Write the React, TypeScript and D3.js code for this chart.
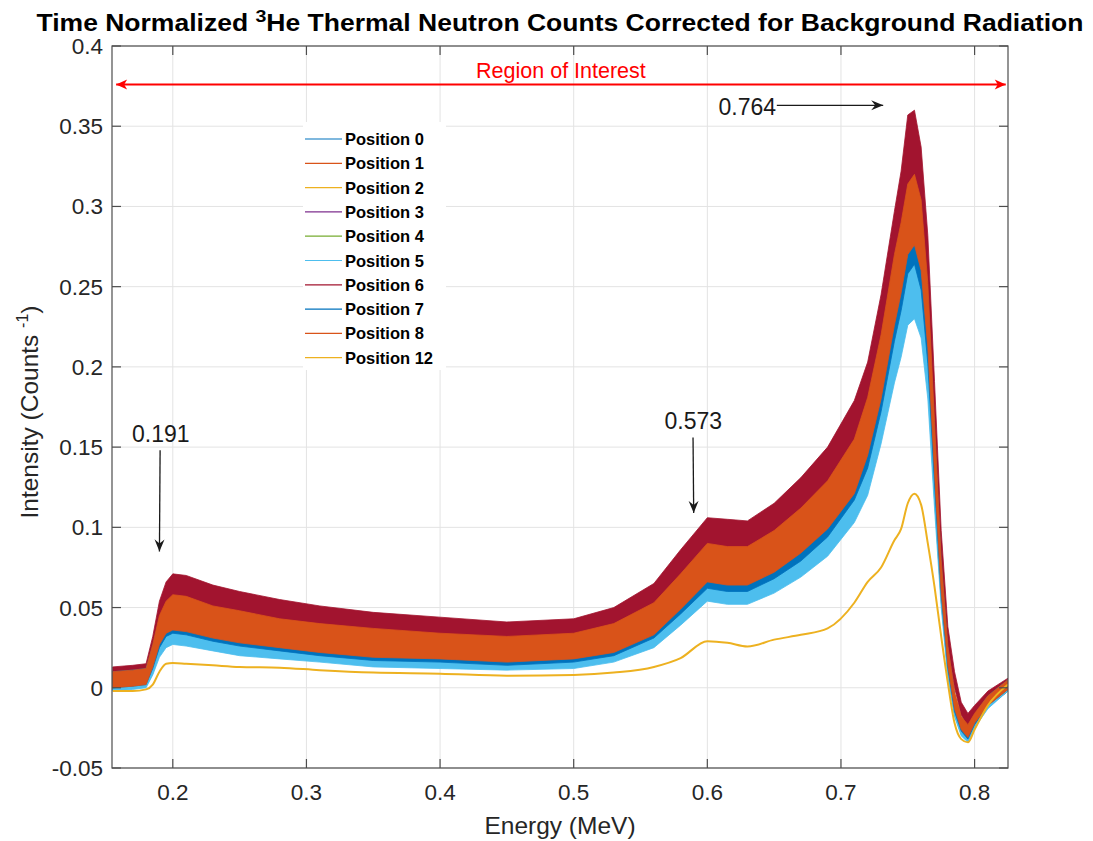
import React from 'react';
import * as d3 from 'd3';

// energy grid (MeV) the curves were read on
const energy = [0.155, 0.17, 0.18, 0.185, 0.19, 0.195, 0.2, 0.21, 0.23, 0.25, 0.28, 0.31, 0.35, 0.4, 0.45, 0.5, 0.53, 0.56, 0.58, 0.6, 0.615, 0.63, 0.65, 0.67, 0.69, 0.71, 0.72, 0.73, 0.74, 0.745, 0.75, 0.755, 0.76, 0.765, 0.77, 0.775, 0.78, 0.785, 0.79, 0.795, 0.8, 0.81, 0.825];

// half-width of the counting noise around each trace
const noise = [0.005, 0.005, 0.005, 0.007, 0.009, 0.010, 0.011, 0.011, 0.010, 0.010, 0.009, 0.009, 0.009, 0.008, 0.008, 0.008, 0.009, 0.010, 0.011, 0.012, 0.012, 0.012, 0.013, 0.014, 0.015, 0.017, 0.018, 0.020, 0.022, 0.022, 0.022, 0.022, 0.022, 0.020, 0.016, 0.010, 0.006, 0.005, 0.004, 0.004, 0.003, 0.003, 0.003];

const pos0 = [0.004, 0.005, 0.006, 0.017, 0.032, 0.040, 0.043, 0.042, 0.037, 0.034, 0.031, 0.028, 0.025, 0.023, 0.021, 0.023, 0.028, 0.039, 0.055, 0.072, 0.070, 0.070, 0.078, 0.090, 0.105, 0.130, 0.150, 0.186, 0.230, 0.248, 0.270, 0.276, 0.262, 0.216, 0.138, 0.066, 0.016, -0.011, -0.024, -0.029, -0.021, -0.009, 0.001];
const pos1 = [0.004, 0.005, 0.006, 0.018, 0.034, 0.042, 0.045, 0.044, 0.039, 0.036, 0.033, 0.030, 0.027, 0.025, 0.023, 0.025, 0.030, 0.041, 0.058, 0.075, 0.073, 0.073, 0.082, 0.095, 0.110, 0.136, 0.157, 0.195, 0.242, 0.262, 0.286, 0.292, 0.276, 0.226, 0.146, 0.068, 0.019, -0.009, -0.023, -0.028, -0.020, -0.008, 0.002];
const pos2 = [0.005, 0.006, 0.007, 0.020, 0.036, 0.045, 0.048, 0.047, 0.042, 0.039, 0.035, 0.032, 0.029, 0.027, 0.025, 0.027, 0.032, 0.044, 0.061, 0.079, 0.077, 0.077, 0.086, 0.099, 0.116, 0.142, 0.166, 0.206, 0.258, 0.282, 0.305, 0.310, 0.290, 0.236, 0.152, 0.071, 0.020, -0.008, -0.022, -0.027, -0.019, -0.008, 0.002];
const pos3 = [0.004, 0.005, 0.006, 0.017, 0.033, 0.041, 0.044, 0.043, 0.038, 0.035, 0.031, 0.028, 0.026, 0.024, 0.022, 0.024, 0.029, 0.040, 0.056, 0.073, 0.071, 0.071, 0.079, 0.092, 0.107, 0.132, 0.152, 0.189, 0.234, 0.252, 0.275, 0.281, 0.266, 0.219, 0.140, 0.067, 0.017, -0.011, -0.024, -0.029, -0.021, -0.009, 0.001];
const pos4 = [0.004, 0.005, 0.006, 0.016, 0.031, 0.039, 0.042, 0.041, 0.036, 0.033, 0.030, 0.027, 0.024, 0.022, 0.021, 0.022, 0.027, 0.038, 0.053, 0.070, 0.068, 0.068, 0.076, 0.088, 0.103, 0.127, 0.146, 0.182, 0.225, 0.242, 0.263, 0.268, 0.255, 0.210, 0.134, 0.064, 0.015, -0.012, -0.025, -0.029, -0.021, -0.009, 0.001];
const pos5 = [0.003, 0.004, 0.005, 0.015, 0.028, 0.035, 0.038, 0.037, 0.033, 0.030, 0.027, 0.025, 0.022, 0.020, 0.019, 0.020, 0.025, 0.035, 0.050, 0.066, 0.064, 0.064, 0.072, 0.083, 0.097, 0.120, 0.138, 0.172, 0.212, 0.228, 0.248, 0.252, 0.240, 0.200, 0.128, 0.060, 0.012, -0.013, -0.026, -0.030, -0.022, -0.010, 0.001];
const pos6 = [0.008, 0.009, 0.010, 0.025, 0.045, 0.056, 0.060, 0.059, 0.054, 0.050, 0.046, 0.042, 0.038, 0.036, 0.033, 0.035, 0.041, 0.055, 0.075, 0.094, 0.093, 0.092, 0.102, 0.117, 0.135, 0.162, 0.185, 0.225, 0.275, 0.300, 0.335, 0.338, 0.315, 0.262, 0.175, 0.088, 0.032, 0.005, -0.013, -0.020, -0.014, -0.005, 0.003];
const pos7 = [0.005, 0.006, 0.007, 0.019, 0.034, 0.042, 0.045, 0.044, 0.039, 0.036, 0.032, 0.029, 0.026, 0.024, 0.022, 0.024, 0.029, 0.041, 0.057, 0.074, 0.072, 0.072, 0.081, 0.093, 0.109, 0.134, 0.155, 0.192, 0.238, 0.257, 0.280, 0.286, 0.270, 0.222, 0.143, 0.068, 0.018, -0.010, -0.023, -0.028, -0.020, -0.008, 0.002];
const pos8 = [0.005, 0.006, 0.007, 0.020, 0.036, 0.044, 0.047, 0.046, 0.041, 0.038, 0.034, 0.031, 0.028, 0.026, 0.024, 0.026, 0.031, 0.043, 0.060, 0.078, 0.076, 0.076, 0.085, 0.098, 0.114, 0.138, 0.163, 0.200, 0.248, 0.268, 0.292, 0.298, 0.282, 0.232, 0.150, 0.070, 0.020, -0.008, -0.022, -0.027, -0.019, -0.008, 0.002];
const pos12 = [-0.002, -0.002, -0.001, 0.002, 0.010, 0.015, 0.0155, 0.015, 0.014, 0.013, 0.0125, 0.011, 0.0095, 0.0088, 0.0075, 0.008, 0.0095, 0.013, 0.0185, 0.029, 0.028, 0.0257, 0.030, 0.033, 0.037, 0.053, 0.066, 0.075, 0.092, 0.099, 0.115, 0.121, 0.114, 0.090, 0.063, 0.032, 0.003, -0.022, -0.032, -0.034, -0.026, -0.011, 0.002];

const series = [
  { name: 'Position 0', color: '#0072BD', values: pos0, noisy: true },
  { name: 'Position 1', color: '#D95319', values: pos1, noisy: true },
  { name: 'Position 2', color: '#EDB120', values: pos2, noisy: true },
  { name: 'Position 3', color: '#7E2F8E', values: pos3, noisy: true },
  { name: 'Position 4', color: '#77AC30', values: pos4, noisy: true },
  { name: 'Position 5', color: '#4DBEEE', values: pos5, noisy: true },
  { name: 'Position 6', color: '#A2142F', values: pos6, noisy: true },
  { name: 'Position 7', color: '#0072BD', values: pos7, noisy: true },
  { name: 'Position 8', color: '#D95319', values: pos8, noisy: true },
  { name: 'Position 12', color: '#EDB120', values: pos12, noisy: false },
];

const xTicks = [0.2, 0.3, 0.4, 0.5, 0.6, 0.7, 0.8];
const yTicks = [-0.05, 0, 0.05, 0.1, 0.15, 0.2, 0.25, 0.3, 0.35, 0.4];

// peak markers: label, arrow start -> arrow end (data units)
const peakNotes = [
  { label: '0.191', tx: 0.191, ty: 0.153, x1: 0.1905, y1: 0.148, x2: 0.1900, y2: 0.085, anchor: 'middle' },
  { label: '0.573', tx: 0.5895, ty: 0.161, x1: 0.5893, y1: 0.156, x2: 0.5898, y2: 0.109, anchor: 'middle' },
  { label: '0.764', tx: 0.6515, ty: 0.357, x1: 0.652, y1: 0.363, x2: 0.7316, y2: 0.363, anchor: 'end' },
];
const regionOfInterest = { from: 0.1576, to: 0.8233, level: 0.376 };

const FONT = '"Liberation Sans", Arial, Helvetica, sans-serif';

export default function App() {
  const width = 1093;
  const height = 841;
  const left = 112, right = 1008, top = 46, bottom = 768;

  const x = d3.scaleLinear().domain([0.1545, 0.825]).range([left, right]);
  const y = d3.scaleLinear().domain([-0.05, 0.4]).range([bottom, top]);

  const band = (vals: number[]) =>
    d3.area<number>()
      .x((_, i) => x(energy[i]))
      .y0((d, i) => y(d - noise[i]))
      .y1((d, i) => y(d + noise[i]))(vals) || '';

  const line = (vals: number[]) =>
    d3.line<number>()
      .x((_, i) => x(energy[i]))
      .y(d => y(d))
      .curve(d3.curveMonotoneX)(vals) || '';

  const axisColor = '#4d4d4d';
  const tickLen = 9;

  return (
    <svg width={width} height={height} style={{ position: 'absolute', left: 0, top: 0, background: '#fff' }} fontFamily={FONT}>
      <defs>
        <clipPath id="plotClip">
          <rect x={left} y={top} width={right - left} height={bottom - top} />
        </clipPath>
        <marker id="redHead" viewBox="-12 -6 14 12" refX={0} refY={0} markerWidth={14} markerHeight={12}
          markerUnits="userSpaceOnUse" orient="auto-start-reverse">
          <path d="M0,0 L-11,-5 L-8,0 L-11,5 Z" fill="#ff0000" />
        </marker>
        <marker id="blackHead" viewBox="-12 -6 14 12" refX={0} refY={0} markerWidth={14} markerHeight={12}
          markerUnits="userSpaceOnUse" orient="auto">
          <path d="M0,0 L-12,-5 L-8,0 L-12,5 Z" fill="#1a1a1a" />
        </marker>
      </defs>

      <rect x={left} y={top} width={right - left} height={bottom - top} fill="#fff" />

      {/* grid */}
      <g stroke="#e3e3e3" strokeWidth={1}>
        {xTicks.map(t => (
          <line key={'gx' + t} x1={x(t)} x2={x(t)} y1={top} y2={bottom} />
        ))}
        {yTicks.map(t => (
          <line key={'gy' + t} x1={left} x2={right} y1={y(t)} y2={y(t)} />
        ))}
      </g>

      {/* traces */}
      <g clipPath="url(#plotClip)">
        {series.map(s => s.noisy ? (
          <path key={s.name} d={band(s.values)} fill={s.color} stroke={s.color} strokeWidth={0.8} strokeLinejoin="round" />
        ) : (
          <path key={s.name} d={line(s.values)} fill="none" stroke={s.color} strokeWidth={2} strokeLinejoin="round" />
        ))}
      </g>

      {/* box + ticks */}
      <rect x={left} y={top} width={right - left} height={bottom - top} fill="none" stroke={axisColor} strokeWidth={1.2} />
      <g stroke={axisColor} strokeWidth={1.2}>
        {xTicks.map(t => (
          <g key={'tx' + t}>
            <line x1={x(t)} x2={x(t)} y1={bottom} y2={bottom - tickLen} />
            <line x1={x(t)} x2={x(t)} y1={top} y2={top + tickLen} />
          </g>
        ))}
        {yTicks.map(t => (
          <g key={'ty' + t}>
            <line x1={left} x2={left + tickLen} y1={y(t)} y2={y(t)} />
            <line x1={right} x2={right - tickLen} y1={y(t)} y2={y(t)} />
          </g>
        ))}
      </g>

      {/* tick labels */}
      <g fill="#262626" fontSize={22.5}>
        {xTicks.map(t => (
          <text key={'lx' + t} x={x(t)} y={bottom + 32} textAnchor="middle">{String(t)}</text>
        ))}
        {yTicks.map(t => (
          <text key={'ly' + t} x={left - 9} y={y(t) + 8} textAnchor="end">{String(t)}</text>
        ))}
      </g>

      {/* axis titles */}
      <text x={(left + right) / 2} y={834} textAnchor="middle" fontSize={24.5} fill="#262626">Energy (MeV)</text>
      <text transform={`translate(38, ${(top + bottom) / 2 + 5}) rotate(-90)`} textAnchor="middle" fontSize={24.5} fill="#262626">
        Intensity (Counts <tspan fontSize={16} dy={-10}>-1</tspan><tspan dy={10}>)</tspan>
      </text>

      {/* title */}
      <text x={560} y={31} textAnchor="middle" fontSize={23} fontWeight="bold" fill="#000"
        textLength={1047} lengthAdjust="spacingAndGlyphs">
        Time Normalized <tspan fontSize={17} dy={-9}>3</tspan><tspan dy={9}>He Thermal Neutron Counts Corrected for Background Radiation</tspan>
      </text>

      {/* region of interest */}
      <line x1={x(regionOfInterest.from)} x2={x(regionOfInterest.to)} y1={y(regionOfInterest.level)} y2={y(regionOfInterest.level)}
        stroke="#ff0000" strokeWidth={2} markerStart="url(#redHead)" markerEnd="url(#redHead)" />
      <text x={(x(regionOfInterest.from) + x(regionOfInterest.to)) / 2} y={y(regionOfInterest.level) - 7} textAnchor="middle"
        fontSize={21.5} fill="#ff0000">Region of Interest</text>

      {/* peak labels */}
      {peakNotes.map(n => (
        <g key={n.label}>
          <line x1={x(n.x1)} y1={y(n.y1)} x2={x(n.x2)} y2={y(n.y2)} stroke="#1a1a1a" strokeWidth={1.3} markerEnd="url(#blackHead)" />
          <text x={x(n.tx)} y={y(n.ty)} textAnchor={n.anchor} fontSize={23} fill="#1a1a1a">{n.label}</text>
        </g>
      ))}

      {/* legend */}
      <g>
        <rect x={303} y={122} width={143} height={248} fill="#fff" />
        {series.map((s, i) => {
          const cy = 139 + i * 24.3;
          return (
            <g key={'leg' + s.name}>
              <line x1={305} x2={342} y1={cy} y2={cy} stroke={s.color} strokeWidth={1.2} />
              <text x={345} y={cy + 6} fontSize={16.5} fontWeight="bold" fill="#000">{s.name}</text>
            </g>
          );
        })}
      </g>
    </svg>
  );
}
